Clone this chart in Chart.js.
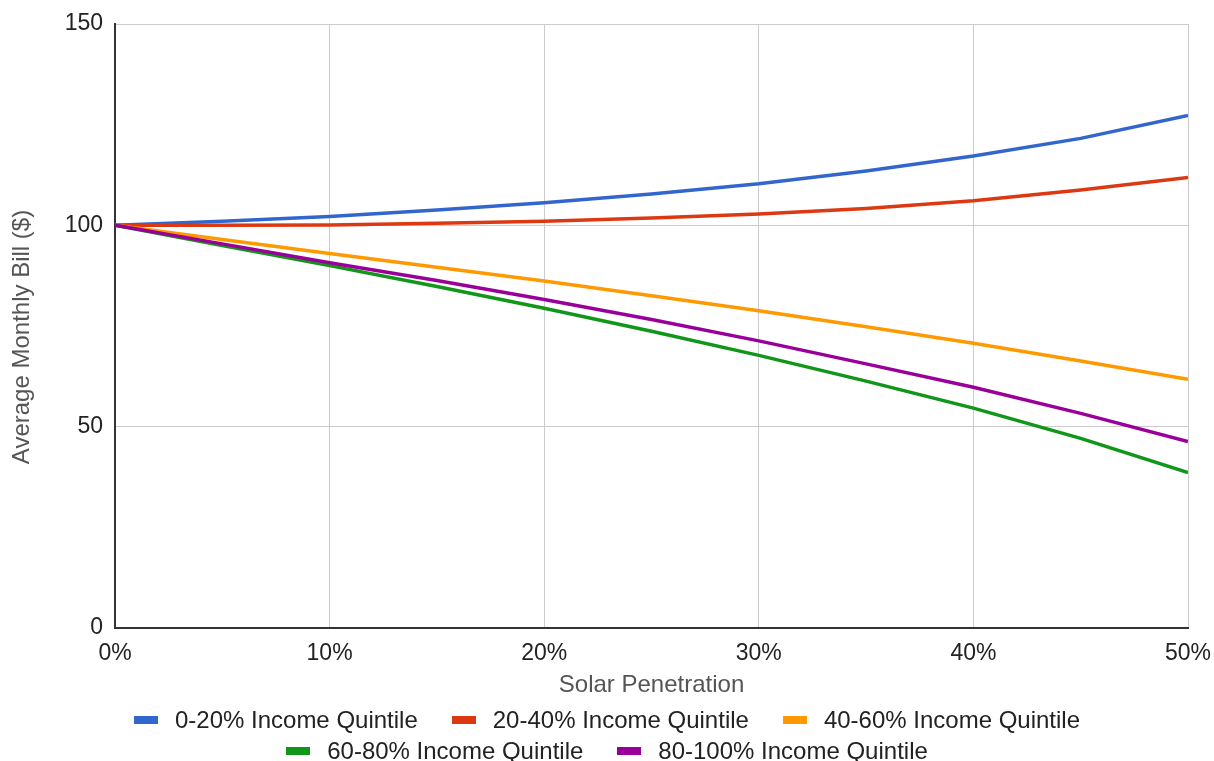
<!DOCTYPE html>
<html>
<head>
<meta charset="utf-8">
<script src="https://cdn.jsdelivr.net/npm/chart.js@4"></script>
<style>
  html, body { margin: 0; padding: 0; background: #fff; }
  #wrap { width: 1214px; height: 761px; }
</style>
</head>
<body>
<div id="wrap"><canvas id="c" width="1214" height="761"></canvas></div>
<script>
// Solar penetration (%) and average monthly bill ($) per income quintile
const penetration = [0, 5, 10, 15, 20, 25, 30, 35, 40, 45, 50];
const q0to20   = [100, 101.0, 102.2, 103.8, 105.6, 107.8, 110.3, 113.5, 117.2, 121.6, 127.3];
const q20to40  = [100, 100.0, 100.1, 100.5, 101.0, 101.8, 102.8, 104.2, 106.1, 108.8, 111.9];
const q40to60  = [100, 96.5, 93.0, 89.6, 86.2, 82.5, 78.8, 74.8, 70.7, 66.3, 61.8];
const q60to80  = [100, 95.0, 90.0, 84.8, 79.4, 73.7, 67.7, 61.3, 54.6, 47.1, 38.6];
const q80to100 = [100, 95.4, 90.7, 86.3, 81.6, 76.6, 71.3, 65.6, 59.8, 53.3, 46.3];

const seriesNames = ['0-20% Income Quintile', '20-40% Income Quintile', '40-60% Income Quintile',
                     '60-80% Income Quintile', '80-100% Income Quintile'];
const seriesValues = [q0to20, q20to40, q40to60, q60to80, q80to100];
const seriesColors = ['#3366cc', '#dc3912', '#ff9900', '#109618', '#990099'];

const yTicks = [0, 50, 100, 150];
const xTicks = [0, 10, 20, 30, 40, 50];
const yTitle = 'Average Monthly Bill ($)';

const FONT = '"Liberation Sans", Arial, sans-serif';

const datasets = seriesValues.map((vals, i) => ({
  label: seriesNames[i],
  data: vals.map((v, k) => ({ x: penetration[k], y: v })),
  borderColor: seriesColors[i],
  backgroundColor: seriesColors[i],
  borderWidth: 3.5,
  pointRadius: 0,
  tension: 0,
  fill: false,
  order: seriesValues.length - i
}));

// Vertical axis title and a legend wrapped into centred rows below the axis title
const extras = {
  id: 'extras',
  afterDraw(chart) {
    const ctx = chart.ctx;
    ctx.save();
    ctx.font = '24px ' + FONT;
    ctx.fillStyle = '#555';
    ctx.textAlign = 'center';
    ctx.textBaseline = 'middle';
    ctx.translate(22, 337);
    ctx.rotate(-Math.PI / 2);
    ctx.fillText(yTitle, 0, 0);
    ctx.restore();

    const boxW = 24, boxH = 8, boxGap = 17, itemGap = 34, maxWidth = 1100;
    const rowY = [720, 751];
    ctx.save();
    ctx.font = '24px ' + FONT;
    ctx.textBaseline = 'middle';
    const items = chart.data.datasets.map(d => ({
      text: d.label, color: d.borderColor,
      w: boxW + boxGap + ctx.measureText(d.label).width
    }));
    const rows = [];
    let cur = [], curW = 0;
    items.forEach(it => {
      const add = cur.length ? itemGap + it.w : it.w;
      if (cur.length && curW + add > maxWidth) { rows.push({ items: cur, w: curW }); cur = [it]; curW = it.w; }
      else { cur.push(it); curW += add; }
    });
    if (cur.length) rows.push({ items: cur, w: curW });
    rows.forEach((row, r) => {
      let x = chart.width / 2 - row.w / 2;
      const y = rowY[r] !== undefined ? rowY[r] : rowY[0] + 31 * r;
      row.items.forEach(it => {
        ctx.fillStyle = it.color;
        ctx.fillRect(Math.round(x), Math.round(y - boxH / 2), boxW, boxH);
        ctx.fillStyle = '#222';
        ctx.fillText(it.text, x + boxW + boxGap, y + 1);
        x += it.w + itemGap;
      });
    });
    ctx.restore();
  }
};

new Chart(document.getElementById('c'), {
  type: 'line',
  data: { datasets },
  plugins: [extras],
  options: {
    responsive: false,
    animation: false,
    layout: { padding: { top: 24, right: 26, bottom: 61, left: 0 } },
    plugins: {
      legend: { display: false },
      tooltip: { enabled: false }
    },
    scales: {
      x: {
        type: 'linear',
        min: 0,
        max: 50,
        afterBuildTicks(scale) { scale.ticks = xTicks.map(v => ({ value: v })); },
        afterFit(scale) { scale.height = 72; scale.paddingLeft = 0; scale.paddingRight = 0; },
        ticks: {
          callback: v => v + '%',
          color: '#222',
          font: { family: FONT, size: 23 },
          padding: 12,
          maxRotation: 0
        },
        grid: { color: '#cccccc', lineWidth: 1, drawTicks: false },
        border: { color: '#333', width: 2 },
        title: {
          display: true,
          text: 'Solar Penetration',
          color: '#555',
          font: { family: FONT, size: 24 },
          padding: { top: 0, bottom: 0 }
        }
      },
      y: {
        type: 'linear',
        min: 0,
        max: 150,
        afterBuildTicks(scale) { scale.ticks = yTicks.map(v => ({ value: v })); },
        afterFit(scale) { scale.width = 115; scale.paddingTop = 0; scale.paddingBottom = 0; },
        ticks: {
          color: '#222',
          font: { family: FONT, size: 23 },
          padding: 12
        },
        grid: { color: '#cccccc', lineWidth: 1, drawTicks: false },
        border: { color: '#333', width: 2 }
      }
    }
  }
});
</script>
</body>
</html>
